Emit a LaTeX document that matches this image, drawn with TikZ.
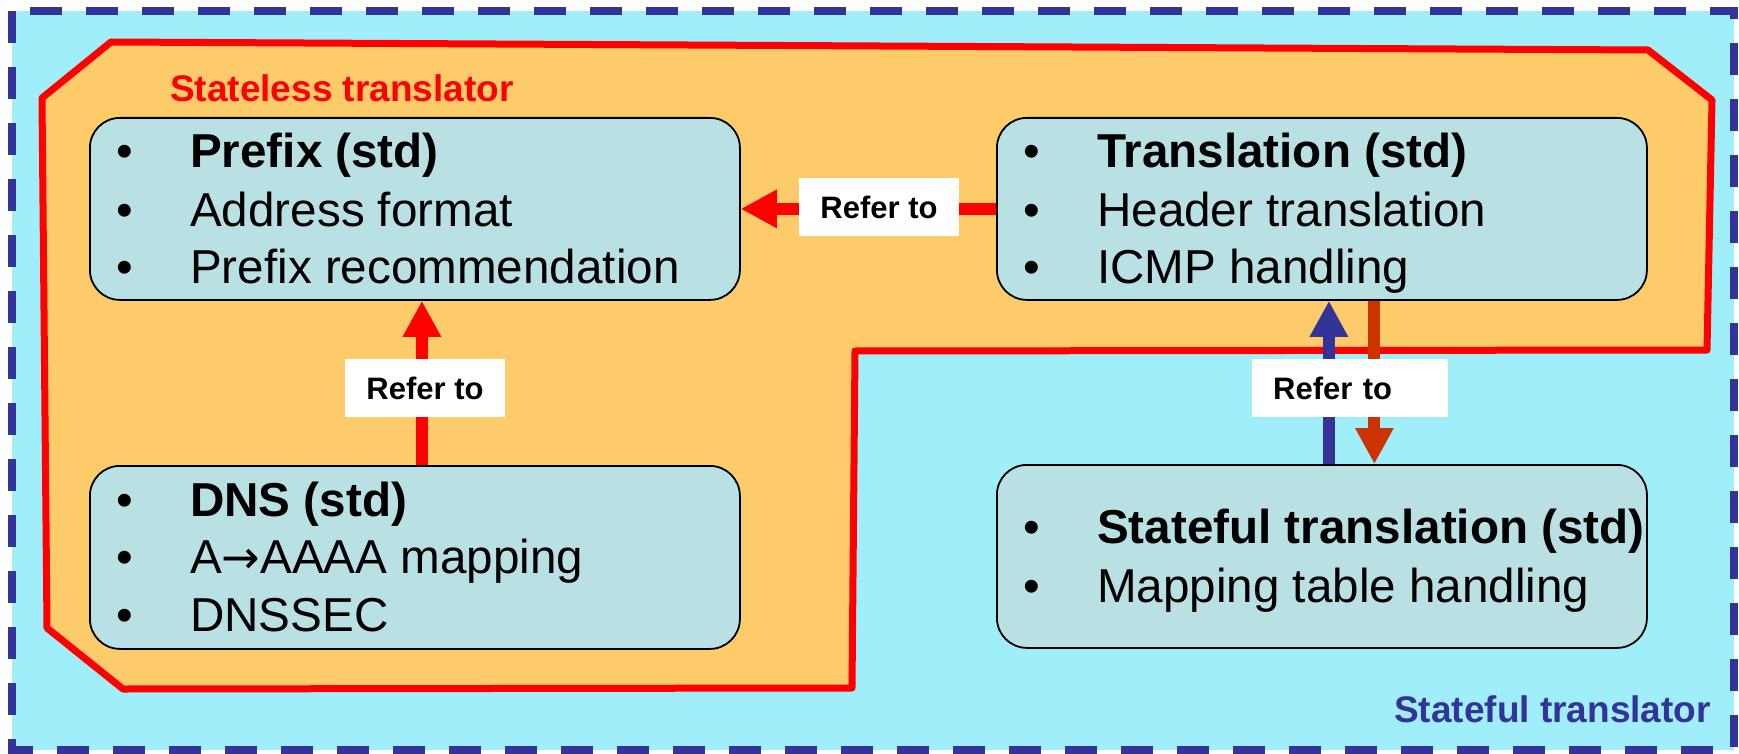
\documentclass[tikz,border=0pt]{standalone}
\usepackage{fontspec}
\setmainfont{Liberation Sans}
\newfontfamily\arrowfont{DejaVu Sans}
\usetikzlibrary{arrows.meta,calc}
\definecolor{outerfill}{HTML}{A0EEFA}
\definecolor{dashblue}{HTML}{333399}
\definecolor{lessfill}{HTML}{FECB6A}
\definecolor{boxfill}{HTML}{B9E0E3}
\definecolor{orangearr}{HTML}{CC3300}
\begin{document}
\begin{tikzpicture}[x=1pt,y=-1pt,
  stdbox/.style={draw=black, line width=1.8pt, fill=boxfill, rounded corners=30pt,
    minimum width=650pt, minimum height=182pt, inner sep=0pt, anchor=north west},
  bul/.style={anchor=base, inner sep=0pt, font=\fontsize{47.6}{56}\selectfont},
  itemtext/.style={anchor=base west, inner sep=0pt, font=\fontsize{47.6}{56}\selectfont},
  itembold/.style={anchor=base west, inner sep=0pt, font=\fontsize{47.6}{56}\selectfont\bfseries},
  conn/.style={line width=12pt, -{Triangle[length=36pt,width=36pt]}},
  reflabel/.style={fill=white, inner sep=0pt, minimum width=160pt, minimum height=58pt,
    font=\fontsize{31}{36}\selectfont\bfseries},
  captiontext/.style={anchor=base west, inner sep=0pt, font=\fontsize{37}{44}\selectfont\bfseries}
]
\useasboundingbox (0,0) rectangle (1739,754);
\fill[white] (0,0) rectangle (1739,754);
% stateful translator area
\draw[dashblue, fill=outerfill, line width=7.5pt, dash pattern=on 32pt off 24pt] (12,11) rectangle (1734,750);
% stateless translator area
\draw[red, fill=lessfill, line width=7pt, line join=round]
  (111,42) -- (1648,50) -- (1712,100) -- (1707,350) -- (855,351) -- (852,688)
  -- (123,689) -- (47,628) -- (42,98) -- cycle;
\node[captiontext, text=red] (stateless) at (170,102) {Stateless translator};
\node[captiontext, text=dashblue] (statefultitle) at (1394,722) {Stateful translator};

% boxes
\node[stdbox] (prefix) at (89,117) {};
\node[stdbox] (trans) at (996,117) {};
\node[stdbox, minimum height=183pt] (dns) at (89,465) {};
\node[stdbox, minimum height=183pt] (stateful) at (996,464) {};

% prefix text
\node[bul] (pb1) at ($(prefix.north west)+(36,51)$) {•};
\node[itembold] (pt1) at ($(prefix.north west)+(101,51)$) {Prefix (std)};
\node[bul] (pb2) at ($(prefix.north west)+(36,109)$) {•};
\node[itemtext] (pt2) at ($(prefix.north west)+(101,109)$) {Address format};
\node[bul] (pb3) at ($(prefix.north west)+(36,166)$) {•};
\node[itemtext] (pt3) at ($(prefix.north west)+(101,166)$) {Prefix recommendation};

% translation text
\node[bul] (tb1) at ($(trans.north west)+(36,51)$) {•};
\node[itembold] (tt1) at ($(trans.north west)+(101,51)$) {Translation (std)};
\node[bul] (tb2) at ($(trans.north west)+(36,109)$) {•};
\node[itemtext] (tt2) at ($(trans.north west)+(101,109)$) {Header translation};
\node[bul] (tb3) at ($(trans.north west)+(36,166)$) {•};
\node[itemtext] (tt3) at ($(trans.north west)+(101,166)$) {ICMP handling};

% dns text
\node[bul] (db1) at ($(dns.north west)+(36,51)$) {•};
\node[itembold] (dt1) at ($(dns.north west)+(101,51)$) {DNS (std)};
\node[bul] (db2) at ($(dns.north west)+(36,108)$) {•};
\node[itemtext] (dt2) at ($(dns.north west)+(101,108)$) {A{\arrowfont\fontsize{46}{50}\selectfont →}AAAA mapping};
\node[bul] (db3) at ($(dns.north west)+(36,166)$) {•};
\node[itemtext] (dt3) at ($(dns.north west)+(101,166)$) {DNSSEC};

% stateful text
\node[bul] (sb1) at ($(stateful.north west)+(36,79)$) {•};
\node[itembold] (st1) at ($(stateful.north west)+(101,79)$) {Stateful translation (std)};
\node[bul] (sb2) at ($(stateful.north west)+(36,138)$) {•};
\node[itemtext] (st2) at ($(stateful.north west)+(101,138)$) {Mapping table handling};

% connectors
\draw[conn, red] (trans.west) -- (prefix.east);
\draw[conn, red] ($(dns.north)+(7,0)$) -- ($(prefix.south)+(7,0)$);
\draw[conn, dashblue] ($(stateful.north)+(7,0)$) -- ($(trans.south)+(7,0)$);
\draw[conn, orangearr] ($(trans.south)+(52.5,0)$) -- ($(stateful.north)+(52.5,0)$);

% labels
\node[reflabel] (lab1) at (879,207) {Refer to};
\node[reflabel] (lab2) at (425,388) {Refer to};
\node[reflabel, text width=154pt, align=left, inner xsep=21pt, minimum width=196pt, anchor=west] (lab3) at (1252,388) {Refer to};
\end{tikzpicture}
\end{document}
